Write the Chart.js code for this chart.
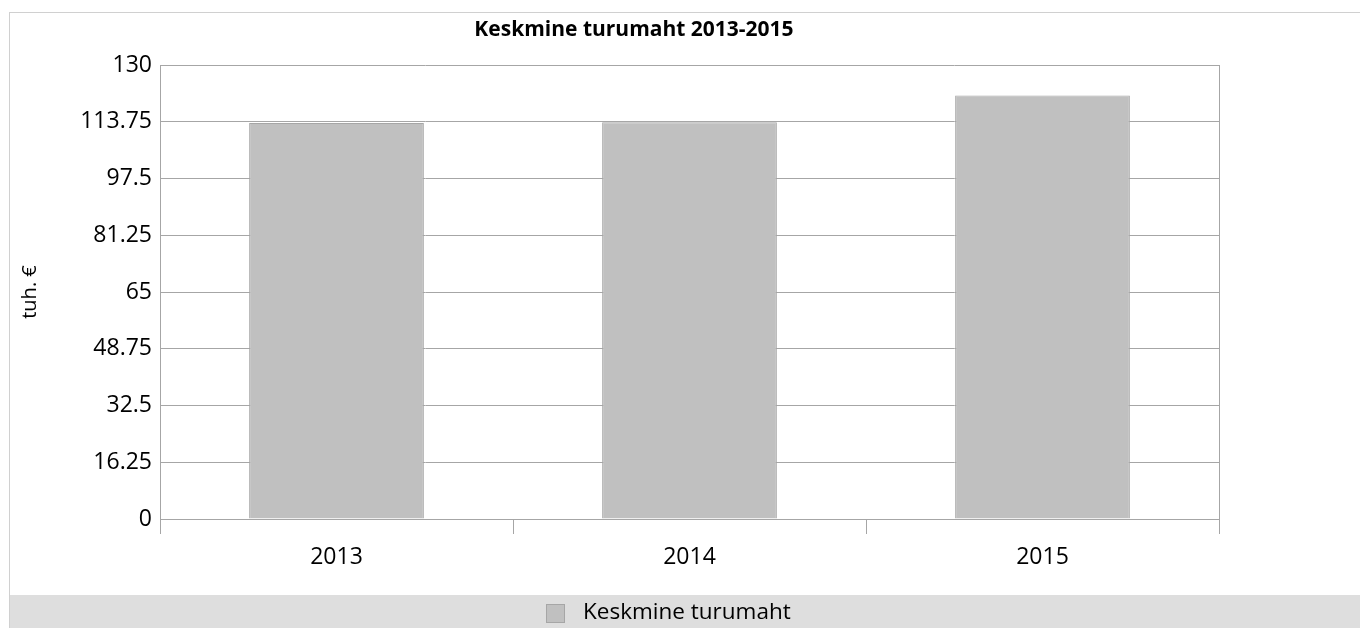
<!DOCTYPE html>
<html>
<head>
<meta charset="utf-8">
<script src="https://cdn.jsdelivr.net/npm/chart.js@4/dist/chart.umd.min.js"></script>
<style>
  body { margin: 0; background: #fff; }
  canvas { display: block; }
</style>
</head>
<body>
<canvas id="chart" width="1360" height="628"></canvas>
<script>
// data
const years = ["2013", "2014", "2015"];
const turnover = [113.4, 113.6, 121.3];
const yTicks = [0, 16.25, 32.5, 48.75, 65, 81.25, 97.5, 113.75, 130];
const seriesLabel = "Keskmine turumaht";
const chartTitle = "Keskmine turumaht 2013-2015";
const yTitle = "tuh. €";

const FONT = "'Open Sans', sans-serif";
const barFill = "#c0c0c0";
const barLine = "#a6a6a6";
const gridColor = "#a6a6a6";

// frame, title and legend band like the original
const decor = {
  id: "decor",
  beforeDraw(chart) {
    const ctx = chart.ctx;
    ctx.save();
    ctx.fillStyle = "#fff";
    ctx.fillRect(0, 0, chart.width, chart.height);
    ctx.strokeStyle = "#d0d0d0";
    ctx.lineWidth = 1;
    ctx.strokeRect(9.5, 12.5, chart.width + 10, chart.height + 10);
    ctx.fillStyle = "#dedede";
    ctx.fillRect(10, 595, chart.width - 10, chart.height - 595);
    ctx.restore();
  },
  afterDraw(chart) {
    const ctx = chart.ctx;
    const area = chart.chartArea;
    ctx.save();
    // right border of plot
    ctx.strokeStyle = gridColor;
    ctx.lineWidth = 1;
    ctx.beginPath();
    ctx.moveTo(Math.round(area.right) + 0.5, area.top);
    ctx.lineTo(Math.round(area.right) + 0.5, area.bottom);
    ctx.stroke();

    // title
    ctx.fillStyle = "#000";
    ctx.font = "bold 21px " + FONT;
    ctx.textAlign = "center";
    ctx.textBaseline = "middle";
    ctx.fillText(chartTitle, 634, 30);

    // legend
    const ds = chart.data.datasets[0];
    ctx.fillStyle = ds.backgroundColor;
    ctx.fillRect(546, 604, 19, 19);
    ctx.strokeStyle = ds.borderColor;
    ctx.strokeRect(546.5, 604.5, 18, 18);
    ctx.fillStyle = "#000";
    ctx.font = "22.5px " + FONT;
    ctx.textAlign = "left";
    ctx.fillText(ds.label, 583, 613);
    ctx.restore();
  }
};

new Chart(document.getElementById("chart"), {
  type: "bar",
  data: {
    labels: years,
    datasets: [{
      label: seriesLabel,
      data: turnover,
      backgroundColor: barFill,
      borderColor: barLine,
      borderWidth: 1,
      barPercentage: 0.495,
      categoryPercentage: 1
    }]
  },
  options: {
    responsive: false,
    animation: false,
    devicePixelRatio: 1,
    layout: { padding: { left: 10, top: 65, right: 141, bottom: 59 } },
    plugins: {
      legend: { display: false },
      title: { display: false },
      tooltip: { enabled: false }
    },
    scales: {
      x: {
        afterFit(s) { s.height = 50; },
        grid: {
          offset: true,
          drawOnChartArea: false,
          drawTicks: true,
          tickLength: 15,
          color: gridColor
        },
        border: { color: gridColor },
        ticks: { color: "#000", font: { family: FONT, size: 23 }, padding: 10 }
      },
      y: {
        min: 0,
        max: 130,
        afterFit(s) { s.width = 150; },
        afterBuildTicks(s) { s.ticks = yTicks.map(v => ({ value: v })); },
        grid: { color: gridColor, drawTicks: false },
        border: { color: gridColor },
        ticks: {
          color: "#000",
          font: { family: FONT, size: 23 },
          padding: 8,
          callback: v => String(v)
        },
        title: {
          display: true,
          text: yTitle,
          color: "#000",
          font: { family: FONT, size: 20 },
          padding: { top: 8, bottom: 0 }
        }
      }
    }
  },
  plugins: [decor]
});
</script>
</body>
</html>
